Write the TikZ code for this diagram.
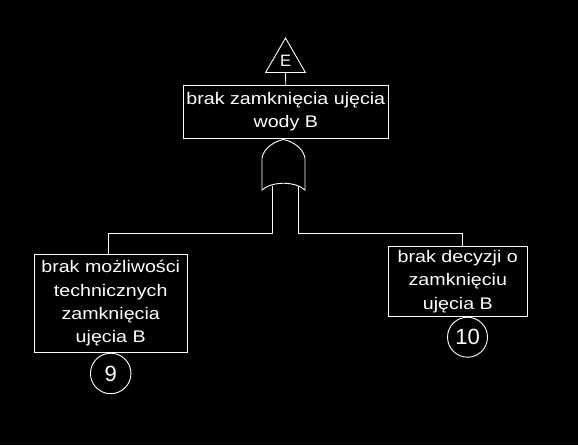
\documentclass[tikz,border=0pt]{standalone}
\usepackage{fontspec}
\setmainfont{Liberation Sans}
\newfontfamily\widefont[FakeStretch=1.17]{Liberation Sans}
\usetikzlibrary{shapes.geometric}
\begin{document}
\begin{tikzpicture}[x=1pt,y=-1pt,
  every path/.style={line width=0.9pt},
  box/.style={draw=white, text=white, align=center, inner sep=0pt, font=\widefont\fontsize{16.8}{23.4}\selectfont},
  circ/.style={draw=white, circle, text=white, minimum size=40.5pt, inner sep=0pt, font=\fontsize{22}{24}\selectfont},
  tri/.style={draw=white, regular polygon, regular polygon sides=3, minimum size=46pt, inner sep=0pt, text=white, font=\fontsize{16.5}{20}\selectfont},
  wire/.style={draw=white}]
\fill[black] (0,0) rectangle (578,445);
\useasboundingbox (0,0) rectangle (578,445);
% nodes
\node[tri] (E) at (285.5,61) {E};
\node[box, minimum width=205pt, minimum height=52.3pt] (top) at (285.8,111.8) {brak zamknięcia ujęcia\\wody B};
\node[box, minimum width=153.3pt, minimum height=98pt] (left) at (110.7,303.3) {brak możliwości\\technicznych\\zamknięcia\\ujęcia B};
\node[box, minimum width=139pt, minimum height=69.6pt] (right) at (457.8,281.5) {brak decyzji o\\zamknięciu\\ujęcia B};
\node[circ, anchor=north] (n9) at (left.south) {9};
\node[circ, anchor=north, minimum size=40pt] (n10) at ([xshift=9.7pt]right.south) {10};
% gate
\coordinate (g) at (283.5,139.5);
\coordinate (gsl) at (272,186);
\coordinate (gsr) at (298.5,186);
\coordinate (bl) at (272,233);
\coordinate (br) at (298.5,233);
\draw[wire] (262,158) .. controls (264,147) and (276,141) .. (g)
  .. controls (291,141) and (303,147) .. (305,158) -- (305,190)
  .. controls (295,181) and (272,181) .. (262,190) -- cycle;
% connectors
\draw[wire] (E.south) -- (top.north);
\draw[wire] (gsl) -- (bl) -| ([xshift=-2.4pt]left.north);
\draw[wire] (gsr) -- (br) -| ([xshift=4.5pt]right.north);
\end{tikzpicture}
\end{document}
